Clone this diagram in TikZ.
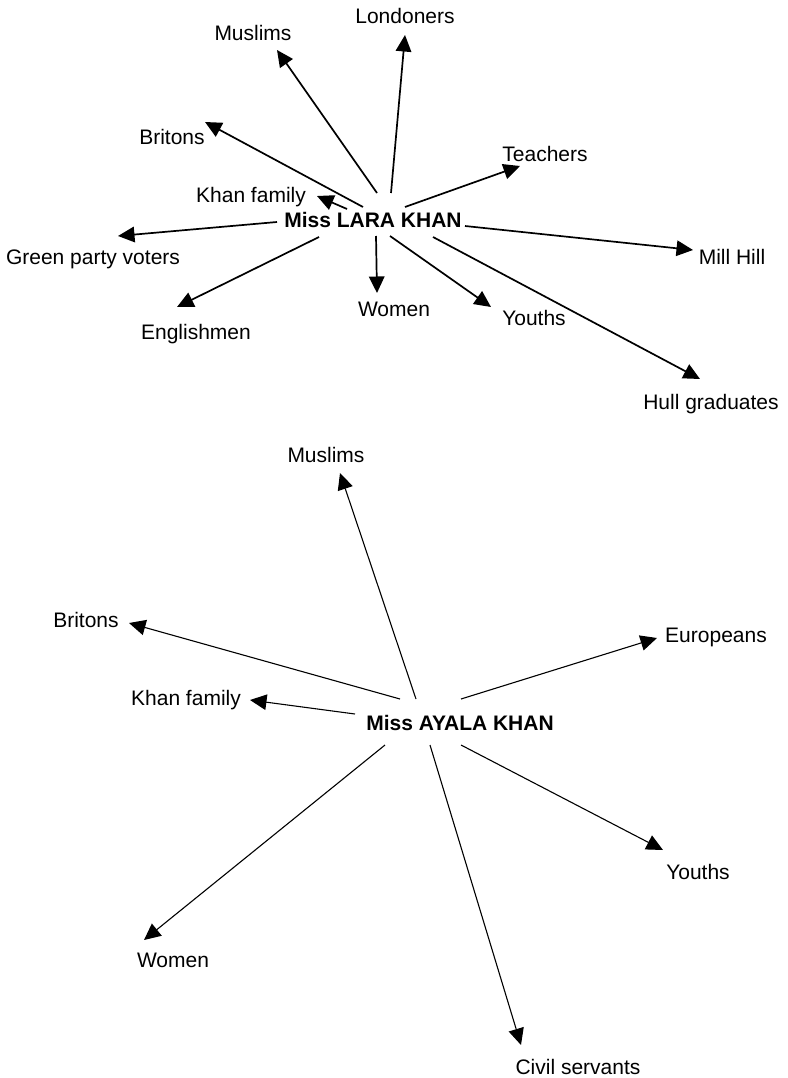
\documentclass[tikz,border=0pt]{standalone}
\usepackage{fontspec}
\setmainfont{Liberation Sans}
\usetikzlibrary{arrows.meta}
\begin{document}
\begin{tikzpicture}[x=1pt,y=-1pt,
  lbl/.style={inner sep=0pt, text height=15pt, text depth=0pt, font=\fontsize{21}{25}\selectfont},
  hub/.style={lbl, font=\fontsize{21}{25}\selectfont\bfseries},
  arrA/.style={-{Triangle[length=16.5pt,width=15.5pt]}, line width=1.7pt},
  arrB/.style={-{Triangle[length=16.5pt,width=15.5pt]}, line width=1.1pt}]
\useasboundingbox[fill=white] (0,0) rectangle (787,1078);

% ---------- top diagram ----------
\node[hub] (lara) at (373,220) {Miss LARA KHAN};
\node[lbl] (tMus) at (253,33) {Muslims};
\node[lbl] (tLon) at (405,16) {Londoners};
\node[lbl] (tBri) at (172,137) {Britons};
\node[lbl] (tKha) at (251,195) {Khan family};
\node[lbl] (tTea) at (545,154) {Teachers};
\node[lbl] (tGre) at (93,257) {Green party voters};
\node[lbl] (tEng) at (196,332) {Englishmen};
\node[lbl] (tWom) at (394,309) {Women};
\node[lbl] (tYou) at (534,318) {Youths};
\node[lbl] (tMil) at (732,257) {Mill Hill};
\node[lbl] (tHul) at (711,402) {Hull graduates};

\coordinate (pMus) at (277,50);
\coordinate (pLon) at (405,35);
\coordinate (pBri) at (205,122);
\coordinate (pKha) at (317,196);
\coordinate (pTea) at (520,166);
\coordinate (pGre) at (118,236);
\coordinate (pEng) at (177,307);
\coordinate (pWom) at (377,293);
\coordinate (pYou) at (491,307);
\coordinate (pMil) at (693,250);
\coordinate (pHul) at (700,379);

\draw[arrA] ([shift={(4,-27)}]lara.center) -- (pMus);
\draw[arrA] ([shift={(18,-27)}]lara.center) -- (pLon);
\draw[arrA] ([shift={(-10,-13)}]lara.center) -- (pBri);
\draw[arrA] ([shift={(-26,-11)}]lara.center) -- (pKha);
\draw[arrA] ([shift={(32,-13)}]lara.center) -- (pTea);
\draw[arrA] ([shift={(-96,2)}]lara.center) -- (pGre);
\draw[arrA] ([shift={(-54,17)}]lara.center) -- (pEng);
\draw[arrA] ([shift={(3,16)}]lara.center) -- (pWom);
\draw[arrA] ([shift={(17,16)}]lara.center) -- (pYou);
\draw[arrA] ([shift={(92,6)}]lara.center) -- (pMil);
\draw[arrA] ([shift={(60,17)}]lara.center) -- (pHul);

% ---------- bottom diagram ----------
\node[hub] (ayala) at (460,723) {Miss AYALA KHAN};
\node[lbl] (bMus) at (326,455) {Muslims};
\node[lbl] (bBri) at (86,620) {Britons};
\node[lbl] (bEur) at (716,635) {Europeans};
\node[lbl] (bKha) at (186,698) {Khan family};
\node[lbl] (bWom) at (173,960) {Women};
\node[lbl] (bCiv) at (578,1067) {Civil servants};
\node[lbl] (bYou) at (698,872) {Youths};

\coordinate (qMus) at (340,473);
\coordinate (qBri) at (129,623);
\coordinate (qEur) at (657,638);
\coordinate (qKha) at (250,700);
\coordinate (qWom) at (144,940);
\coordinate (qCiv) at (521,1045);
\coordinate (qYou) at (663,850);

\draw[arrB] ([shift={(-44,-24)}]ayala.center) -- (qMus);
\draw[arrB] ([shift={(-60,-24)}]ayala.center) -- (qBri);
\draw[arrB] ([shift={(1,-24)}]ayala.center) -- (qEur);
\draw[arrB] ([shift={(-105,-9)}]ayala.center) -- (qKha);
\draw[arrB] ([shift={(-75,22)}]ayala.center) -- (qWom);
\draw[arrB] ([shift={(-30,22)}]ayala.center) -- (qCiv);
\draw[arrB] ([shift={(1,22)}]ayala.center) -- (qYou);
\end{tikzpicture}
\end{document}
